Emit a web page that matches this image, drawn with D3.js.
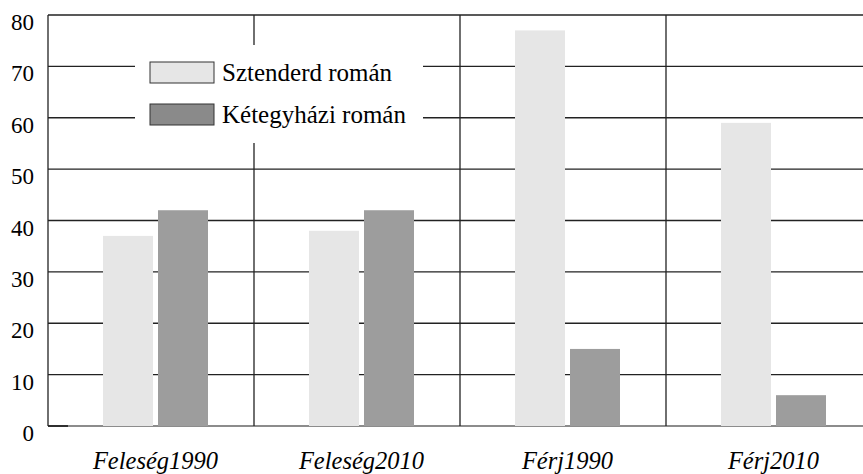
<!DOCTYPE html>
<html>
<head>
<meta charset="utf-8">
<script src="https://cdn.jsdelivr.net/npm/d3@7"></script>
<style>
  svg text { font-family: "Liberation Serif", Tinos, FreeSerif, monospace !important; }
</style>
</head>
<body style="margin:0">
<script>
const w = 863;
const h = 474;

// data
const categories = ["Feleség1990", "Feleség2010", "Férj1990", "Férj2010"];
const seriesNames = ["Sztenderd román", "Kétegyházi román"];
const sztenderd = [37, 38, 77, 59];
const ketegyhazi = [42, 42, 15, 6];
const yTicks = [0, 10, 20, 30, 40, 50, 60, 70, 80];

const barColors = ["#e6e6e6", "#9d9d9d"];
const swatchColors = ["#e6e6e6", "#8a8a8a"];
const fontStack = '"Liberation Serif", Tinos, FreeSerif, monospace';

const plotLeft = 48, plotTop = 15, plotBottom = 426;
const step = 206;

const x0 = d3.scaleBand()
  .domain(categories)
  .range([plotLeft, plotLeft + step * categories.length])
  .padding(0);

const x1 = d3.scaleBand()
  .domain(seriesNames)
  .range([55, 160])
  .paddingInner(0.0909);

const y = d3.scaleLinear()
  .domain([0, 80])
  .range([plotBottom, plotTop]);

const rows = categories.map((c, i) => ({
  cat: c,
  vals: [
    { s: seriesNames[0], v: sztenderd[i] },
    { s: seriesNames[1], v: ketegyhazi[i] }
  ]
}));

const svg = d3.select("body")
  .append("svg")
  .attr("width", w)
  .attr("height", h);

// horizontal grid lines
svg.append("g")
  .selectAll("line")
  .data(yTicks.filter(t => t > 0))
  .enter().append("line")
  .attr("x1", plotLeft)
  .attr("x2", w)
  .attr("y1", d => y(d))
  .attr("y2", d => y(d))
  .attr("stroke", "#222")
  .attr("stroke-width", 1.3);

// baseline
svg.append("line")
  .attr("x1", plotLeft).attr("x2", w)
  .attr("y1", y(0)).attr("y2", y(0))
  .attr("stroke", "#666")
  .attr("stroke-width", 1.5);
svg.append("line")
  .attr("x1", plotLeft).attr("x2", plotLeft + 20)
  .attr("y1", y(0)).attr("y2", y(0))
  .attr("stroke", "#111")
  .attr("stroke-width", 1.5);

// vertical category dividers
svg.append("g")
  .selectAll("line")
  .data(categories)
  .enter().append("line")
  .attr("x1", d => x0(d))
  .attr("x2", d => x0(d))
  .attr("y1", y(80))
  .attr("y2", y(0))
  .attr("stroke", "#222")
  .attr("stroke-width", 1.3);

// bars
svg.append("g")
  .selectAll("g")
  .data(rows)
  .enter().append("g")
  .attr("transform", d => `translate(${x0(d.cat)},0)`)
  .selectAll("rect")
  .data(d => d.vals)
  .enter().append("rect")
  .attr("x", d => x1(d.s))
  .attr("width", x1.bandwidth())
  .attr("y", d => y(d.v))
  .attr("height", d => y(0) - y(d.v))
  .attr("fill", (d, i) => barColors[i]);

// legend
svg.append("rect")
  .attr("x", 135).attr("y", 45)
  .attr("width", 288).attr("height", 98)
  .attr("fill", "#fff");

svg.selectAll("rect.swatch")
  .data(seriesNames)
  .enter().append("rect")
  .attr("class", "swatch")
  .attr("x", 150)
  .attr("y", (d, i) => 62 + i * 42)
  .attr("width", 64)
  .attr("height", 21)
  .attr("fill", (d, i) => swatchColors[i])
  .attr("stroke", "#333")
  .attr("stroke-width", 1);

svg.selectAll("text.leg")
  .data(seriesNames)
  .enter().append("text")
  .attr("class", "leg")
  .attr("x", 222)
  .attr("y", (d, i) => 80.5 + i * 42)
  .attr("font-family", fontStack)
  .style("font-family", fontStack, "important")
  .style("font-size", "25px")
  .text(d => d);

// y tick labels
svg.selectAll("text.ytick")
  .data(yTicks)
  .enter().append("text")
  .attr("class", "ytick")
  .attr("x", 34)
  .attr("y", d => y(d) + 15)
  .attr("text-anchor", "end")
  .attr("font-family", fontStack)
  .style("font-family", fontStack, "important")
  .style("font-size", "23px")
  .text(d => d);

// x labels
svg.selectAll("text.xlab")
  .data(categories)
  .enter().append("text")
  .attr("class", "xlab")
  .attr("x", d => x0(d) + 107.5)
  .attr("y", 469)
  .attr("text-anchor", "middle")
  .attr("font-family", fontStack)
  .style("font-family", fontStack, "important")
  .style("font-size", "24.5px")
  .style("font-style", "italic")
  .text(d => d);
</script>
</body>
</html>
